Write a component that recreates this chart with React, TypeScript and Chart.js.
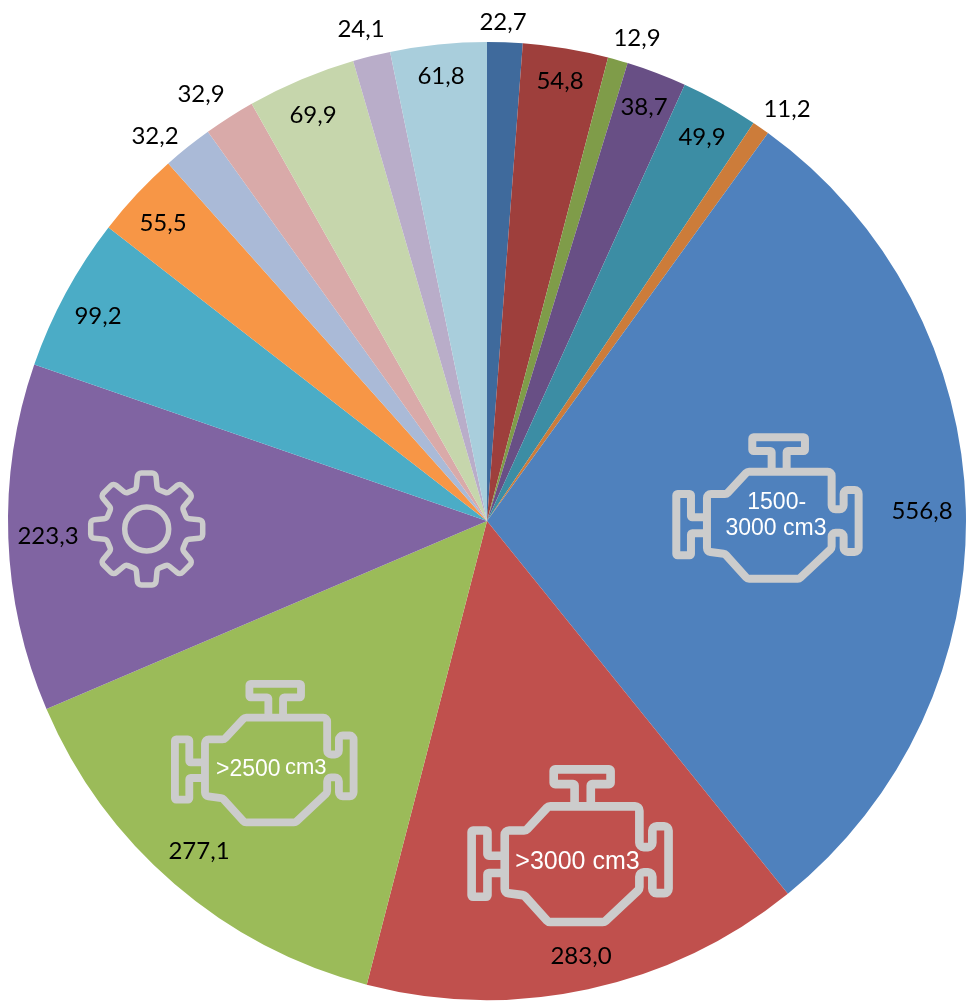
import React, { useEffect, useRef } from "react";
import { Chart, registerables } from "chart.js";

Chart.register(...registerables);

const W = 971;
const H = 1001;

const categories = [
  "A1", "A2", "A3", "A4", "A5", "A6",
  "1500-3000 cm3", ">3000 cm3", ">2500 cm3", "Gear",
  "B1", "B2", "B3", "B4", "B5", "B6", "B7",
];
const values = [
  22.7, 54.8, 12.9, 38.7, 49.9, 11.2,
  556.8, 283.0, 277.1, 223.3, 99.2, 55.5,
  32.2, 32.9, 69.9, 24.1, 61.8,
];
const colors = [
  "#3F6A9C", "#9E3F3C", "#7F9C49", "#684F85", "#3C8DA4", "#CC7C3A",
  "#4F81BD", "#C0504D", "#9BBB59", "#8064A2", "#4BACC6", "#F79646",
  "#AABAD7", "#D9AAA9", "#C6D6AC", "#B9ADC9", "#A9CEDC",
];
const labelCentres: [number, number][] = [
  [503, 22], [560, 81], [637, 38], [644, 107], [702, 137], [787, 109],
  [922, 511], [581, 956], [199, 851], [48, 536], [98, 316], [163, 223],
  [155, 136], [201, 94], [313, 115], [361, 29], [441, 76],
];

const ICON_LINE = "#CCCCCC";

type Pt = [number, number];

function roundedPoly(ctx: CanvasRenderingContext2D, pts: Pt[], r: number, closed: boolean) {
  const n = pts.length;
  if (closed) {
    const mx = (pts[0][0] + pts[n - 1][0]) / 2;
    const my = (pts[0][1] + pts[n - 1][1]) / 2;
    ctx.moveTo(mx, my);
    for (let i = 0; i < n; i++) {
      const next = pts[(i + 1) % n];
      ctx.arcTo(pts[i][0], pts[i][1], next[0], next[1], r);
    }
    ctx.closePath();
  } else {
    ctx.moveTo(pts[0][0], pts[0][1]);
    for (let i = 1; i < n - 1; i++) ctx.arcTo(pts[i][0], pts[i][1], pts[i + 1][0], pts[i + 1][1], r);
    ctx.lineTo(pts[n - 1][0], pts[n - 1][1]);
  }
}

// The engine outline, in the units of one 3x crop of the icon.
const engineBody: Pt[] = [
  [141, 292], [141, 222], [200, 222], [262, 155], [515, 155], [515, 268], [551, 268],
  [551, 210], [596, 210], [596, 396], [551, 396], [551, 338], [515, 338], [515, 385],
  [418, 476], [262, 476], [195, 402], [141, 395], [141, 292],
];
const engineCap: Pt[] = [
  [335, 155], [335, 93], [277, 93], [277, 52], [435, 52], [435, 93], [380, 93], [380, 155],
];
const engineLug: Pt[] = [
  [141, 292], [93, 292], [93, 222], [49, 222], [49, 406], [93, 406], [93, 340], [141, 340],
];

function drawEngine(ctx: CanvasRenderingContext2D, left: number, top: number, s: number) {
  ctx.save();
  ctx.translate(left, top);
  ctx.scale(s / 3, s / 3);
  ctx.translate(-37, -40);
  ctx.strokeStyle = ICON_LINE;
  ctx.lineWidth = 24;
  ctx.lineJoin = "round";
  ctx.beginPath();
  roundedPoly(ctx, engineBody, 12, false);
  roundedPoly(ctx, engineCap, 4, false);
  roundedPoly(ctx, engineLug, 4, false);
  ctx.stroke();
  ctx.restore();
}

function drawGear(ctx: CanvasRenderingContext2D, cx: number, cy: number) {
  const teeth = 8;
  const pts: Pt[] = [];
  for (let t = 0; t < teeth; t++) {
    const a = (t * 2 * Math.PI) / teeth;
    const local: Pt[] = [[-10.5, -40], [-9, -56], [9, -56], [10.5, -40]];
    for (const [x, y] of local) {
      pts.push([cx + x * Math.cos(a) - y * Math.sin(a), cy + x * Math.sin(a) + y * Math.cos(a)]);
    }
  }
  ctx.save();
  ctx.strokeStyle = ICON_LINE;
  ctx.lineWidth = 5.5;
  ctx.lineJoin = "round";
  ctx.beginPath();
  roundedPoly(ctx, pts, 4, true);
  ctx.stroke();
  ctx.beginPath();
  ctx.arc(cx, cy, 22, 0, Math.PI * 2);
  ctx.stroke();
  ctx.restore();
}

const overlayPlugin = {
  id: "overlay",
  afterDraw(chart: any) {
    const ctx: CanvasRenderingContext2D = chart.ctx;
    drawEngine(ctx, 672.3, 433.3, 1);
    drawEngine(ctx, 467.3, 765, 1.08);
    drawEngine(ctx, 171, 680, 0.98);
    drawGear(ctx, 146.7, 529);

    ctx.save();
    ctx.textBaseline = "middle";
    ctx.fillStyle = "#FFFFFF";
    ctx.textAlign = "center";
    ctx.font = '23px "Liberation Sans"';
    ctx.fillText("1500-", 776.7, 503);
    ctx.fillText("3000 cm3", 776, 529);
    ctx.font = '25px "Liberation Sans"';
    ctx.fillText(">3000 cm3", 577.5, 862);
    ctx.textAlign = "left";
    ctx.font = '23px "Liberation Sans"';
    ctx.fillText(">2500", 216, 770);
    ctx.font = '22px "Liberation Sans"';
    ctx.fillText("cm3", 285, 768);

    ctx.textAlign = "center";
    ctx.fillStyle = "#000000";
    ctx.font = "24px Lato";
    values.forEach((v, i) => {
      const [x, y] = labelCentres[i];
      ctx.fillText(v.toFixed(1).replace(".", ","), x, y);
    });
    ctx.restore();
  },
};

export default function App() {
  const ref = useRef<HTMLCanvasElement>(null);
  useEffect(() => {
    const chart = new Chart(ref.current!, {
      type: "pie",
      data: {
        labels: categories,
        datasets: [{ data: values, backgroundColor: colors, borderWidth: 0 }],
      },
      options: {
        animation: false,
        responsive: false,
        devicePixelRatio: 1,
        layout: { padding: { left: 8, right: 5, top: 42, bottom: 1 } },
        plugins: { legend: { display: false }, tooltip: { enabled: false } },
      },
      plugins: [overlayPlugin],
    } as any);
    return () => chart.destroy();
  }, []);
  return (
    <canvas
      ref={ref}
      width={W}
      height={H}
      style={{ position: "absolute", left: 0, top: 0, display: "block", width: W, height: H }}
    />
  );
}
